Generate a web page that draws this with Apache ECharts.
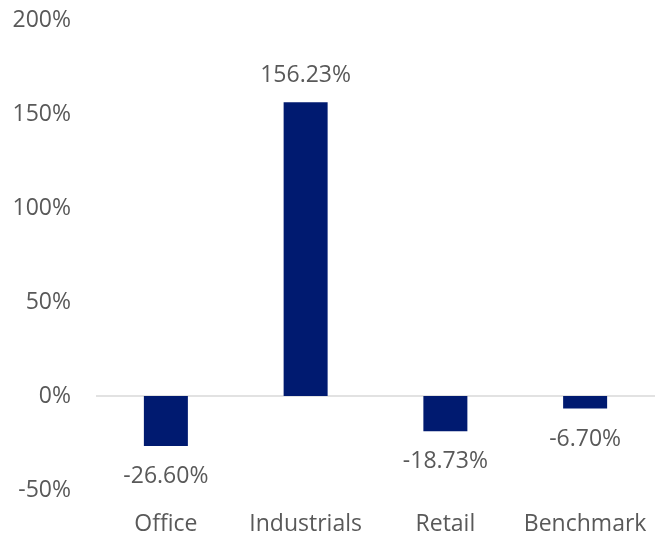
<!DOCTYPE html>
<html>
<head>
<meta charset="utf-8">
<script src="https://cdn.jsdelivr.net/npm/echarts@6/dist/echarts.min.js"></script>
<style>
  html, body { margin: 0; padding: 0; background: #fff; }
  #chart { width: 663px; height: 540px; }
</style>
</head>
<body>
<div id="chart"></div>
<script>
// Sector returns (%)
const categories = ['Office', 'Industrials', 'Retail', 'Benchmark'];
const returns = [-26.60, 156.23, -18.73, -6.70];
const yMin = -50, yMax = 200, yStep = 50;

const textColor = '#595959';
const barColor = '#001a70';
const fontFamily = '"Open Sans", "Noto Sans", sans-serif';
const fontSize = 23;

const chart = echarts.init(document.getElementById('chart'));

const barData = returns.map(v => ({
  value: v,
  label: {
    position: v >= 0 ? 'top' : 'bottom',
    distance: v >= 0 ? 15 : 19
  }
}));

chart.setOption({
  animation: false,
  grid: { left: 96, right: 8, top: 20, bottom: 50, containLabel: false },
  xAxis: {
    type: 'category',
    data: categories,
    axisLine: { show: false, onZero: false },
    axisTick: { show: false },
    axisLabel: {
      interval: 0,
      hideOverlap: false,
      color: textColor,
      fontFamily: fontFamily,
      fontSize: fontSize,
      margin: 23
    }
  },
  yAxis: {
    type: 'value',
    min: yMin,
    max: yMax,
    interval: yStep,
    axisLine: { show: false },
    axisTick: { show: false },
    splitLine: { show: false },
    axisLabel: {
      color: textColor,
      fontFamily: fontFamily,
      fontSize: fontSize,
      margin: 25,
      formatter: v => v + '%'
    }
  },
  series: [{
    type: 'bar',
    data: barData,
    barWidth: 44,
    itemStyle: { color: barColor },
    label: {
      show: true,
      color: textColor,
      fontFamily: fontFamily,
      fontSize: fontSize,
      formatter: p => p.value.toFixed(2) + '%'
    },
    // baseline at 0%
    markLine: {
      silent: true,
      symbol: 'none',
      label: { show: false },
      lineStyle: { color: '#d9d9d9', width: 1.5, type: 'solid' },
      data: [{ yAxis: 0 }],
      z: 1
    }
  }]
});
</script>
</body>
</html>
